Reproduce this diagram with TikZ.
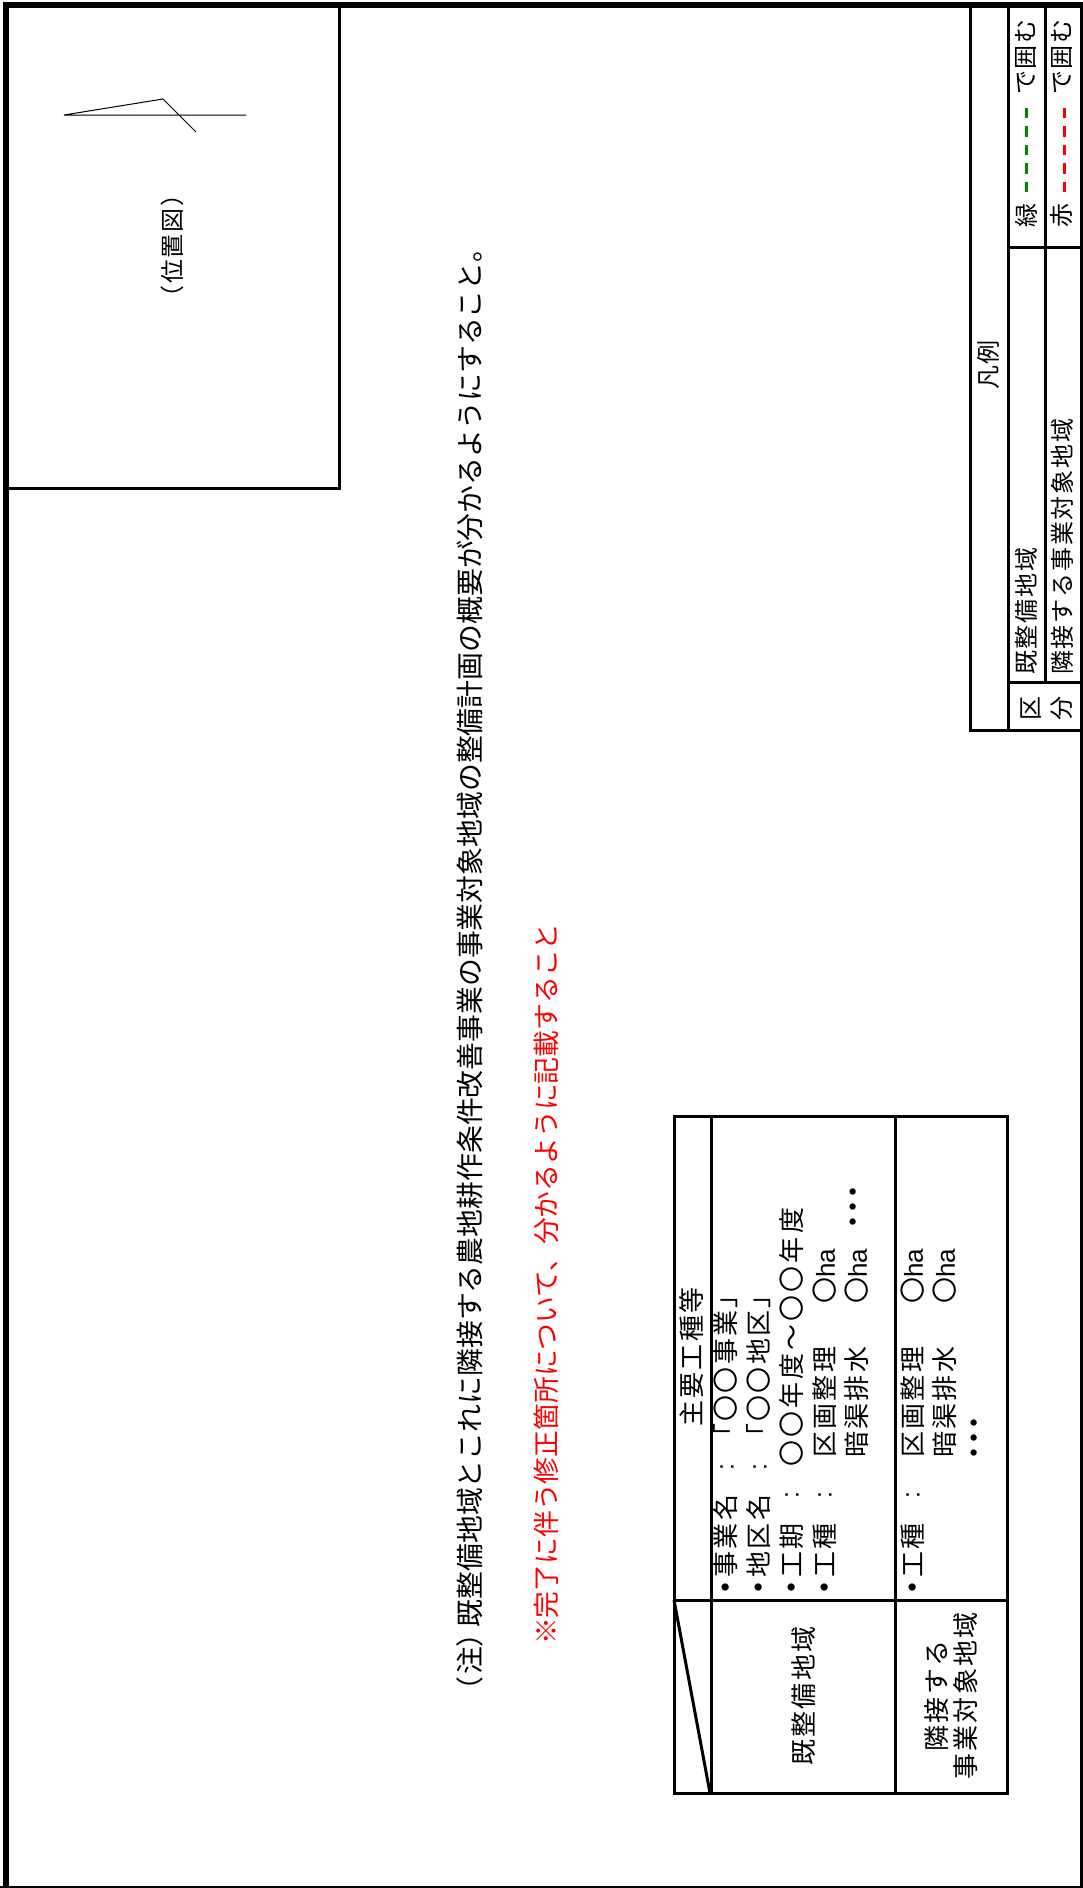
\documentclass[tikz,border=0pt]{standalone}
\usepackage{fontspec}
\setmainfont{Noto Sans CJK JP}
\newfontfamily\latinf{Liberation Sans}
\newcommand{\fa}{\fontsize{27.85}{32}\selectfont}
\newcommand{\fb}{\fontsize{26.8}{30}\selectfont}
\newcommand{\fc}{\fontsize{24}{34}\selectfont\addfontfeature{LetterSpace=7.5}}
\newcommand{\fd}{\fontsize{26}{29}\selectfont\addfontfeature{LetterSpace=9}}
\newcommand{\ff}{\fontsize{26}{29}\selectfont\addfontfeature{LetterSpace=12}}
\newcommand{\fe}{\fontsize{30}{34}\selectfont\bfseries}
\newcommand{\hadot}{\textbf{・}\kern-5pt}
\newcommand{\haunit}{〇{\latinf ha}}
\tikzset{
  heavy/.style={line width=3pt,line cap=butt},
  thin line/.style={line width=1pt},
  lab/.style={rotate=90,inner sep=0pt,anchor=west,font=\fc},
  tab/.style={rotate=90,inner sep=0pt,anchor=west,font=\fd},
  ctr/.style={rotate=90,inner sep=0pt,anchor=center,align=center,font=\fc},
  tabctr/.style={rotate=90,inner sep=0pt,anchor=center,align=center,font=\fd},
  colon/.style={rotate=90,inner sep=0pt,anchor=center,font=\fontsize{25}{29}\selectfont\latinf},
  dots/.style={rotate=90,inner sep=0pt,anchor=west,font=\fe},
  gdash/.style={line width=3pt,dash pattern=on 10.5pt off 8pt},
}
\begin{document}
\begin{tikzpicture}[x=1pt,y=-1pt]
\useasboundingbox (0,0) rectangle (1083,1888);
\fill[white] (0,0) rectangle (1083,1888);
% page frame
\draw[line width=6pt] (6,1888) -- (6,5) -- (1083,5);
\draw[line width=3.5pt] (1081.5,5) -- (1081.5,1888);
\draw[line width=2pt] (0,1887) -- (1083,1887);
% location map box
\draw[heavy] (6,488) -- (339,488) -- (339,5);
\draw[thin line] (246,115) -- (64,115) -- (163,99) -- (196,132);
\node[ctr] (mapcap) at (172,246) {（位置図）};
% notes
\node[lab,font=\fa] (note) at (470,1705) {（\kern2pt 注）\kern-8pt 既整備地域とこれに隣接する農地耕作条件改善事業の事業対象地域の整備計画の概要が分かるようにすること。};
\node[lab,font=\fb,text=red] (warn) at (546,1645) {※完了に伴う修正箇所について、分かるように記載すること};
% legend
\draw[heavy] (970,5) -- (970,730) -- (1081,730);
\draw[heavy] (1008,5) -- (1008,730);
\draw[heavy] (1045,5) -- (1045,682);
\draw[heavy] (1008,247) -- (1081,247);
\draw[heavy] (1008,682) -- (1081,682);
\node[ctr] (lg) at (988,365) {凡例};
\node[ctr] (ku) at (1047,708) {区\\[-3pt]分};
\node[lab] (l1) at (1026,675) {既整備地域};
\node[lab] (l2) at (1062,675) {隣接する事業対象地域};
\node[lab] (g1) at (1026,228) {緑};
\node[lab] (r1) at (1061,228) {赤};
\draw[gdash,color={rgb,255:red,0;green,135;blue,0}] (1026.5,192) -- (1026.5,107);
\draw[gdash,red] (1064.5,192) -- (1064.5,107);
\node[lab] (g2) at (1026,95) {で囲む};
\node[lab] (r2) at (1062,95) {で囲む};
% table
\draw[heavy] (674,1116) rectangle (1007.5,1793);
\draw[heavy] (711,1116) -- (711,1793);
\draw[heavy] (895.5,1116) -- (895.5,1793);
\draw[heavy] (674,1600) -- (1007.5,1600);
\draw[heavy] (674,1600) -- (710,1793);
\node[tabctr] (h) at (692,1357) {主要工種等};
\node[tabctr] (a1) at (804,1696) {既整備地域};
\node[tabctr] (a2) at (951,1696) {隣接する\\事業対象地域};
% rows
\node[tab] (t1) at (726,1601) {\hadot 事業名};
\node[tab] (t2) at (759,1601) {\hadot 地区名};
\node[tab] (t3) at (792,1601) {\hadot 工期};
\node[tab] (t4) at (825,1601) {\hadot 工種};
\node[colon] (c1) at (727,1467) {:};
\node[colon] (c2) at (760,1467) {:};
\node[colon] (c3) at (792,1495) {:};
\node[colon] (c4) at (825,1495) {:};
\node[tab] (v1) at (726,1450) {「〇〇事業」};
\node[tab] (v2) at (759,1450) {「〇〇地区」};
\node[tab,font=\ff] (v3) at (792,1467) {〇〇年度～〇〇年度};
\node[tab] (v4) at (825,1458) {区画整理};
\node[tab] (v5) at (857,1458) {暗渠排水};
\node[tab] (h1) at (825,1304) {\haunit};
\node[tab] (h2) at (857,1304) {\haunit};
\node[dots] (d1) at (857,1229.5) {･･･};
\node[tab] (t5) at (913,1601) {\hadot 工種};
\node[colon] (c5) at (913,1495) {:};
\node[tab] (v6) at (913,1458) {区画整理};
\node[tab] (v7) at (945,1458) {暗渠排水};
\node[tab] (h3) at (913,1304) {\haunit};
\node[tab] (h4) at (945,1304) {\haunit};
\node[dots] (d2) at (978,1460.5) {･･･};
\end{tikzpicture}
\end{document}
